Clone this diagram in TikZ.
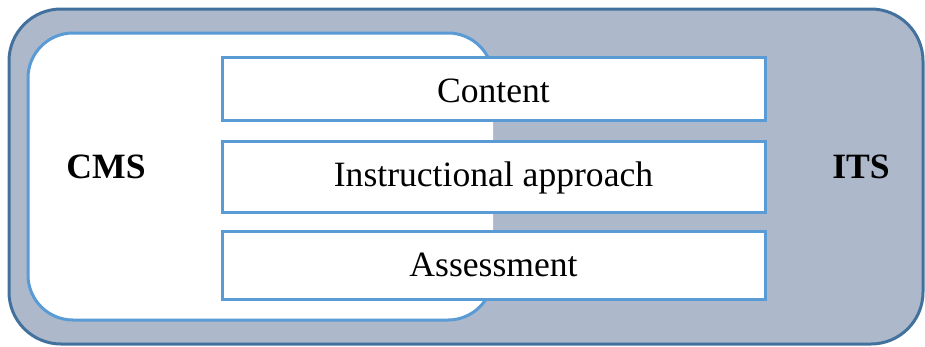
\documentclass[tikz,border=0pt]{standalone}
\usepackage{fontspec}
\setmainfont{Liberation Serif}
\usetikzlibrary{positioning}

\definecolor{itsfill}{HTML}{ADB9CA}
\definecolor{itsline}{HTML}{41719C}
\definecolor{boxline}{HTML}{5B9BD5}

\tikzset{
	layerbox/.style = {draw = boxline, line width = 3pt, fill = white, minimum width = 543pt, text height = 24pt, text depth = 2pt, font = \fontsize{35.6}{40}\selectfont},
	sysname/.style = {font = \fontsize{35.6}{40}\selectfont\bfseries}
}

\begin{document}
\begin{tikzpicture}[x = 1pt, y = -1pt]
	\useasboundingbox (0,0) rectangle (925,346);
	
	%ITS
	\draw[line width = 3pt, itsline, fill = itsfill, rounded corners = 52pt] (9,9) rectangle (923,344);
	
	%CMS
	\fill[white, rounded corners = 45pt] (28,33) rectangle (493,320);
	\begin{scope}
		\clip (0,0) rectangle (490,346) (0,0) rectangle (925,78) (0,275) rectangle (925,346);
		\draw[line width = 3pt, boxline, rounded corners = 45pt] (28,33) rectangle (493,320);
	\end{scope}
	
	%layers
	\node[layerbox, minimum height = 63pt, text height = 30pt] (content) at (493.5,88.5) {Content};
	\node[layerbox, minimum height = 71pt, text depth = 4pt] (approach) at (493.5,176.5) {Instructional approach};
	\node[layerbox, minimum height = 68pt] (assessment) at (493.5,265) {Assessment};
	
	%labels
	\node[sysname] (cms) at (106,167) {CMS};
	\node[sysname] (its) at (861,167) {ITS};
\end{tikzpicture}
\end{document}
